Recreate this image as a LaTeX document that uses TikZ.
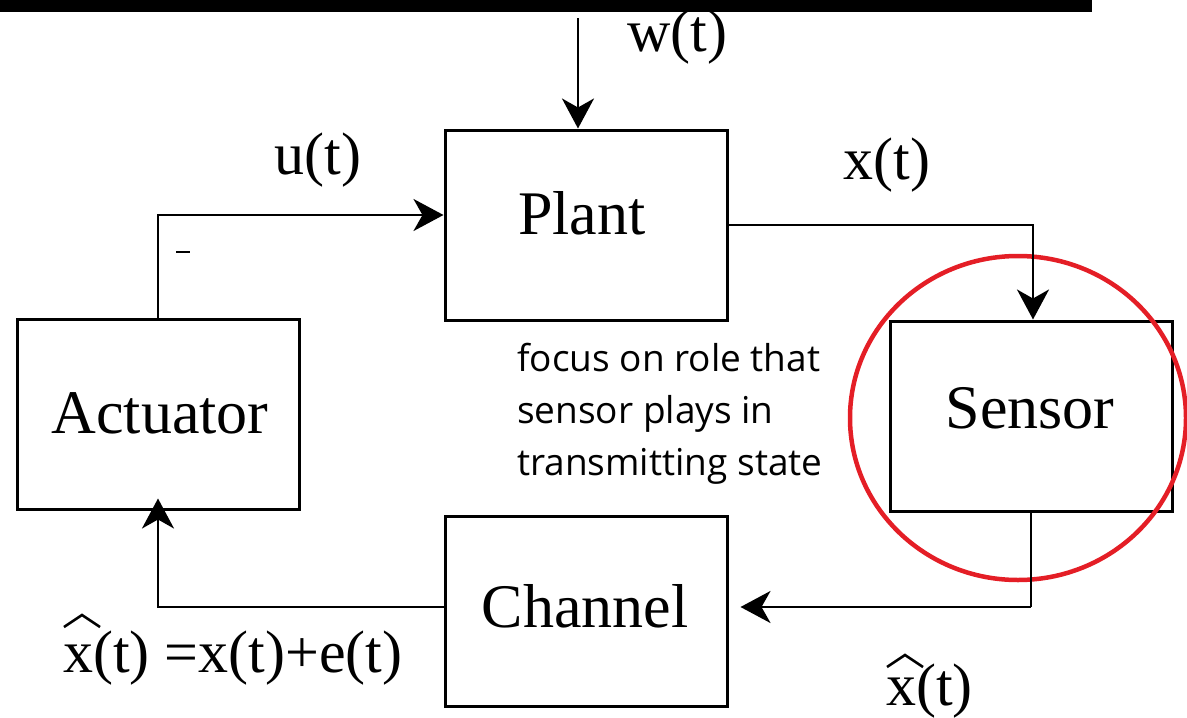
\documentclass[tikz,border=0pt]{standalone}
\usepackage{fontspec}
\setmainfont{Liberation Serif}
\newfontfamily\notefont{Open Sans}
\usetikzlibrary{arrows.meta}
\definecolor{ringred}{RGB}{228,30,38}
\begin{document}
\begin{tikzpicture}[x=1pt,y=-1pt,
  blk/.style={draw, line width=3pt, minimum width=282pt, minimum height=190pt, inner sep=0pt},
  blktext/.style={font=\fontsize{62}{62}\selectfont, inner sep=0pt},
  lbl/.style={font=\fontsize{60}{60}\selectfont, inner sep=0pt},
  conn/.style={line width=2.6pt, -{Stealth[length=30pt,width=32pt,inset=9pt]}},
  line/.style={line width=2.6pt},
  hatline/.style={line width=2.6pt, line join=miter}]
\useasboundingbox (0,0) rectangle (1187,718);
\fill[black] (0,0) rectangle (1092,12);
\node[blk] (plant) at (586,225) {};
\node[blk] (act) at (158,414) {};
\node[blk] (sens) at (1031,416) {};
\node[blk] (chan) at (586,611) {};
\node[blktext] (plantt) at (582,213) {Plant};
\node[blktext] (actt) at (160,413) {Actuator};
\node[blktext] (senst) at (1030,408) {Sensor};
\node[blktext] (chant) at (585,606) {Channel};
\draw[ringred, line width=4.5pt] (1018,418) ellipse (168pt and 162pt);
\coordinate (wtop) at (578,18);
\draw[conn] (wtop) -- (wtop |- plant.north);
\node[lbl] (wl) at (677,37) {w(t)};
\draw[conn] (act.north) -- (act.north |- 0,215) -- (plant.west |- 0,215);
\node[lbl] (ul) at (318,160) {u(t)};
\node[inner sep=0pt] (minus) at (183,252) {\rule{14pt}{2pt}};
\draw[conn] (plant.east |- 0,225) -- (1033,225) -- (sens.north -| 1033,0);
\node[lbl] (xl) at (887,165) {x(t)};
\coordinate (sb) at (sens.south -| 1031,0);
\draw[line] (sb) -- (1031,607);
\draw[conn] (1031,607) -- ([xshift=12pt]chan.east |- 0,607);
\node[lbl, anchor=base west] (xhl) at (886,705) {x(t)};
\draw[hatline] ([shift={(1,-38)}]xhl.base west) -- ([shift={(19,-50)}]xhl.base west) -- ([shift={(37,-38)}]xhl.base west);
\draw[conn] (chan.west |- 0,607) -- (158,607) -- ([yshift=12pt]act.south);
\node[lbl, anchor=base west] (eql) at (63,672) {x(t) =x(t)+e(t)};
\draw[hatline] ([shift={(1,-45)}]eql.base west) -- ([shift={(19,-57)}]eql.base west) -- ([shift={(37,-45)}]eql.base west);
\node[align=left, anchor=north west, inner sep=0pt, font=\notefont\fontsize{37}{52}\selectfont] (note) at (517,343) {focus on role that\\sensor plays in\\transmitting state};
\end{tikzpicture}
\end{document}
